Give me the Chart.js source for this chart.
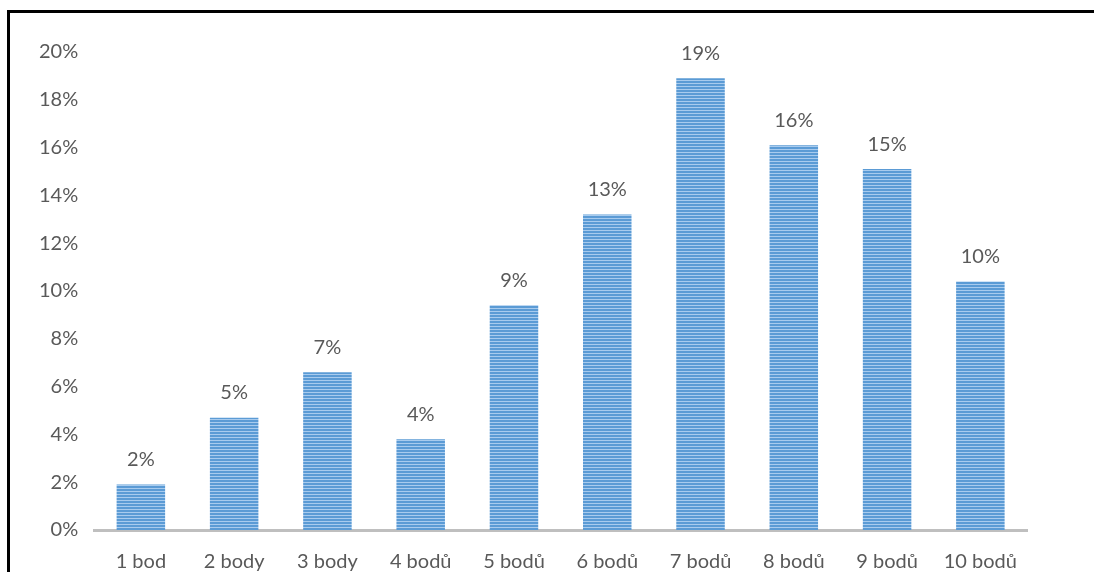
<!DOCTYPE html>
<html>
<head>
<meta charset="utf-8">
<script src="https://cdn.jsdelivr.net/npm/chart.js@4/dist/chart.umd.min.js"></script>
<style>
  html, body { margin: 0; padding: 0; background: #fff; }
  #wrap { position: relative; width: 1094px; height: 572px; overflow: hidden; }
  #frame {
    position: absolute; left: 7px; top: 10px; width: 1200px; height: 700px;
    border-left: 3px solid #000; border-top: 3px solid #000;
  }
  canvas { position: absolute; left: 0; top: 0; }
</style>
</head>
<body>
<div id="wrap">
  <div id="frame"></div>
  <canvas id="scoreChart" width="1094" height="572"></canvas>
</div>
<script>
// categories and shares (percent)
const categories = ["1 bod", "2 body", "3 body", "4 bodů", "5 bodů", "6 bodů", "7 bodů", "8 bodů", "9 bodů", "10 bodů"];
const shares = [1.9, 4.7, 6.6, 3.8, 9.4, 13.2, 18.9, 16.1, 15.1, 10.4];
const yTicks = [0, 2, 4, 6, 8, 10, 12, 14, 16, 18, 20];

const FONT = "Lato, 'Open Sans', sans-serif";
const TEXT = "#595959";

// horizontal stripe fill like the original bars
function stripePattern(ctx) {
  const c = document.createElement("canvas");
  c.width = 4; c.height = 3;
  const p = c.getContext("2d");
  p.fillStyle = "#5b9bd5";
  p.fillRect(0, 0, 4, 3);
  p.fillStyle = "#a8cbee";
  p.fillRect(0, 2, 4, 1);
  return ctx.createPattern(c, "repeat");
}

// value labels above each bar
const valueLabels = {
  id: "valueLabels",
  afterDatasetsDraw(chart) {
    const ctx = chart.ctx;
    const meta = chart.getDatasetMeta(0);
    ctx.save();
    ctx.font = "20px " + FONT;
    ctx.fillStyle = TEXT;
    ctx.textAlign = "center";
    ctx.textBaseline = "middle";
    meta.data.forEach((bar, i) => {
      ctx.fillText(Math.round(shares[i]) + "%", bar.x, bar.y - 25);
    });
    ctx.restore();
  }
};

const canvas = document.getElementById("scoreChart");
const ctx = canvas.getContext("2d");

new Chart(ctx, {
  type: "bar",
  data: {
    labels: categories,
    datasets: [{
      data: shares,
      backgroundColor: stripePattern(ctx),
      borderWidth: 0,
      barPercentage: 0.52,
      categoryPercentage: 1
    }]
  },
  options: {
    responsive: false,
    animation: false,
    layout: { padding: { left: 31, right: 67, top: 52, bottom: 0 } },
    plugins: {
      legend: { display: false },
      tooltip: { enabled: false }
    },
    scales: {
      x: {
        grid: { display: false },
        border: { display: true, color: "#bfbfbf", width: 3 },
        ticks: { color: TEXT, font: { family: FONT, size: 20 }, padding: 12, maxRotation: 0 },
        afterFit(axis) { axis.height = 42; }
      },
      y: {
        min: 0,
        max: 20,
        afterBuildTicks(axis) { axis.ticks = yTicks.map(v => ({ value: v })); },
        grid: { display: false },
        border: { display: false },
        ticks: {
          color: TEXT,
          font: { family: FONT, size: 20 },
          padding: 8,
          callback: v => v + "%"
        }
      }
    }
  },
  plugins: [valueLabels]
});
</script>
</body>
</html>
